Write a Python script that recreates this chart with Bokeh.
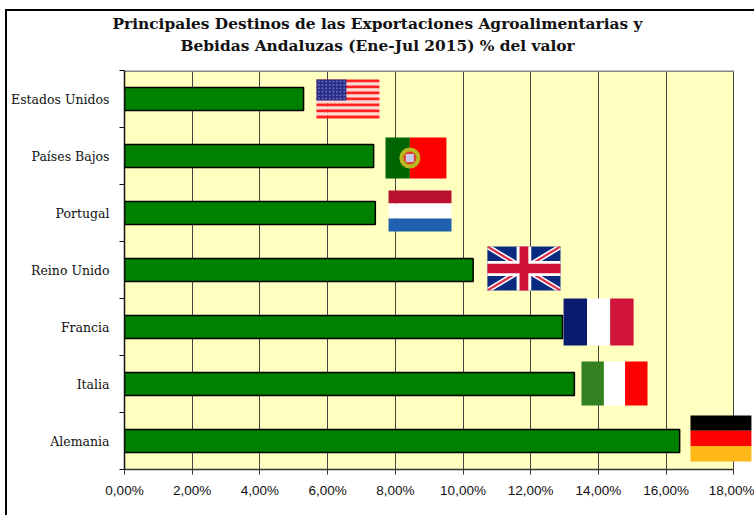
from bokeh.plotting import figure
from bokeh.embed import file_html
from bokeh.resources import INLINE
from bokeh.models import Range1d, FixedTicker, Title
import numpy as np

title_lines = ["Principales Destinos de las Exportaciones Agroalimentarias y",
               "Bebidas Andaluzas (Ene-Jul 2015) % del valor"]
title_offsets = [-12, 56]
title_standoffs = [2, 2]
categories = ["Estados Unidos", "Países Bajos", "Portugal", "Reino Unido", "Francia", "Italia", "Alemania"]
values = [5.29, 7.36, 7.41, 10.3, 12.94, 13.29, 16.4]
x_ticks = [0, 2, 4, 6, 8, 10, 12, 14, 16, 18]
x_labels = ["0,00%", "2,00%", "4,00%", "6,00%", "8,00%", "10,00%", "12,00%", "14,00%", "16,00%", "18,00%"]

# flags: left, right in value units, top, bottom in category rows
flag_us = (5.67, 7.53, 0.158, 0.842)
flag_pt = (7.71, 9.51, 1.175, 1.895)
flag_nl = (7.80, 9.66, 2.105, 2.825)
flag_uk = (10.72, 12.88, 3.088, 3.860)
flag_fr = (12.97, 15.04, 4.000, 4.825)
flag_it = (13.50, 15.45, 5.105, 5.877)
flag_de = (16.72, 18.52, 6.053, 6.860)

n = len(categories)
centers = [i + 0.5 for i in range(n)]
p = figure(width=749, height=506, output_backend="svg", toolbar_location=None,
           x_range=Range1d(0, 18.67), y_range=Range1d(n, 0),
           min_border_left=117, min_border_right=0, min_border_top=59, min_border_bottom=48,
           background_fill_color="white", border_fill_color="white", outline_line_color=None,
           margin=(9, 0, 0, 5),
           styles={"border-left": "2px solid #000", "border-top": "2px solid #000", "box-sizing": "border-box"})

# plot area
p.quad(left=[0], right=[x_ticks[-1]], top=[0], bottom=[n], fill_color="#FFFFC0", line_color=None, level="underlay")
p.segment(x0=[0], x1=[x_ticks[-1]], y0=[0], y1=[0], line_color="#888888", line_width=3)

# grid
p.xgrid.ticker = FixedTicker(ticks=x_ticks[1:])
p.xgrid.grid_line_color = "#444444"
p.xgrid.grid_line_width = 1
p.xgrid.bounds = (0, x_ticks[-1])
p.ygrid.grid_line_color = None
p.xgrid.level = "underlay"

# axes
xa = p.xaxis[0]
xa.ticker = FixedTicker(ticks=x_ticks)
xa.major_label_overrides = {t: l for t, l in zip(x_ticks, x_labels)}
xa.bounds = (0, x_ticks[-1])
xa.major_label_text_font = "Liberation Sans"
xa.major_label_text_font_size = "13.5px"
xa.major_label_text_color = "#111111"
xa.major_tick_in = 0
xa.major_tick_out = 5
xa.minor_tick_line_color = None
xa.axis_line_color = "#333333"
xa.major_tick_line_color = "#333333"
xa.axis_line_width = 1.5
xa.major_label_standoff = 8

ya = p.yaxis[0]
ya.ticker = FixedTicker(ticks=centers, minor_ticks=list(range(n + 1)))
ya.major_label_overrides = {c: l for c, l in zip(centers, categories)}
ya.major_label_text_font = "DejaVu Serif"
ya.major_label_text_font_size = "12.5px"
ya.major_label_text_color = "#111111"
ya.major_tick_in = 0
ya.major_tick_out = 0
ya.minor_tick_in = 0
ya.minor_tick_out = 5
ya.minor_tick_line_color = "#111111"
ya.axis_line_color = "#111111"
ya.axis_line_width = 1.5
ya.major_label_standoff = 10

# bars
p.hbar(y=centers, right=values, left=0, height=0.4, fill_color="#008000", line_color="#000000", line_width=1.5)


def q(f, x0, x1, y0, y1, color):
    l, r, t, b = f
    p.quad(left=[l + (r - l) * x0], right=[l + (r - l) * x1], top=[t + (b - t) * y0], bottom=[t + (b - t) * y1],
           fill_color=color, line_color=None)


def poly(f, pts, color):
    l, r, t, b = f
    p.patch(x=[l + (r - l) * a for a, _ in pts], y=[t + (b - t) * c for _, c in pts], fill_color=color, line_color=None)


# USA
for i in range(13):
    q(flag_us, 0, 1, i / 13, (i + 1) / 13, "#FF2020" if i % 2 == 0 else "#FFD8D8")
q(flag_us, 0, 0.475, 0, 0.54, "#2A2F8C")
l, r, t, b = flag_us
sx, sy = np.meshgrid(np.linspace(0.04, 0.44, 8), np.linspace(0.05, 0.49, 6))
p.scatter(x=(l + (r - l) * sx).ravel(), y=(t + (b - t) * sy).ravel(), size=1.6, color="#8085C8", line_color=None)

# Portugal
q(flag_pt, 0, 0.4, 0, 1, "#006400")
q(flag_pt, 0.4, 1, 0, 1, "#FF0000")
l, r, t, b = flag_pt
ex, ey = l + (r - l) * 0.4, t + (b - t) * 0.5
p.scatter(x=[ex], y=[ey], size=21, color="#B8B820", line_color=None)
p.scatter(x=[ex], y=[ey], size=13, color="#E04030", line_color=None)
p.scatter(x=[ex], y=[ey], size=8, marker="square", color="#C8C8E8", line_color=None)

# Netherlands
q(flag_nl, 0, 1, 0, 0.32, "#B81030")
q(flag_nl, 0, 1, 0.32, 0.68, "#FFFFFF")
q(flag_nl, 0, 1, 0.68, 1, "#2060B0")

# UK
q(flag_uk, 0, 1, 0, 1, "#0A2A80")
d = 0.07
for a in [[(0, 0), (d, 0), (1, 1 - d), (1, 1), (1 - d, 1), (0, d)],
          [(1, 0), (1, d), (d, 1), (0, 1), (0, 1 - d), (1 - d, 0)]]:
    poly(flag_uk, a, "#FFFFFF")
e = 0.03
for a in [[(0, 0), (e, 0), (1, 1 - e), (1, 1), (1 - e, 1), (0, e)],
          [(1, 0), (1, e), (e, 1), (0, 1), (0, 1 - e), (1 - e, 0)]]:
    poly(flag_uk, a, "#D8304A")
q(flag_uk, 0.40, 0.60, 0, 1, "#FFFFFF")
q(flag_uk, 0, 1, 0.33, 0.67, "#FFFFFF")
q(flag_uk, 0.44, 0.56, 0, 1, "#D01038")
q(flag_uk, 0, 1, 0.39, 0.61, "#D01038")

# France
q(flag_fr, 0, 0.335, 0, 1, "#0A1A6E")
q(flag_fr, 0.335, 0.665, 0, 1, "#FFFFFF")
q(flag_fr, 0.665, 1, 0, 1, "#D0143C")

# Italy
q(flag_it, 0, 0.34, 0, 1, "#338020")
q(flag_it, 0.34, 0.66, 0, 1, "#FFFFFF")
q(flag_it, 0.66, 1, 0, 1, "#FF0000")

# Germany
q(flag_de, 0, 1, 0, 0.33, "#000000")
q(flag_de, 0, 1, 0.33, 0.66, "#FF0000")
q(flag_de, 0, 1, 0.66, 1, "#FFB818")

# chart title: a blank first line keeps the two real lines clear of the plot area
p.add_layout(Title(text=" ", text_font_size="1px", standoff=12), "above")
for line, off, st in zip(reversed(title_lines), reversed(title_offsets), reversed(title_standoffs)):
    p.add_layout(Title(text=line, align="left", offset=off, text_font="DejaVu Serif", text_font_style="bold",
                       text_font_size="15.4px", text_color="#111111", standoff=st), "above")

open("out.html", "w").write(file_html(p, INLINE))
